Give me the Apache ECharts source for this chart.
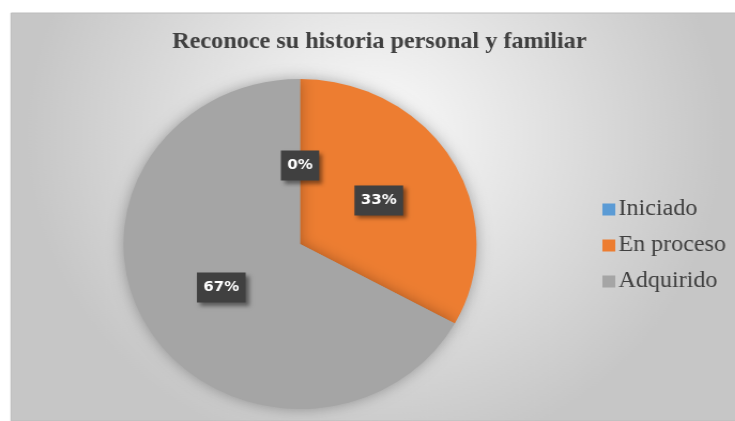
<!DOCTYPE html>
<html>
<head>
    <meta charset="utf-8">
    <title>Reconoce su historia personal y familiar</title>
    <script type="text/javascript" src="https://cdn.jsdelivr.net/npm/echarts@6/dist/echarts.min.js"></script>
    <style>
        html, body { margin: 0; padding: 0; background: #ffffff; overflow: hidden; }
        /* la imagen original está algo estirada a lo ancho */
        #main { width: 687px; height: 421px; transform: scaleX(1.07); transform-origin: 0 0; }
    </style>
</head>
<body>
    <div id="main"></div>
    <script type="text/javascript">
        // datos del gráfico
        var categorias = ['Iniciado', 'En proceso', 'Adquirido'];
        var valores = [0, 33, 67];
        var colores = ['#5b9bd5', '#ed7d31', '#a5a5a5'];

        var datos = categorias.map(function (nombre, i) {
            var item = { name: nombre, value: valores[i], itemStyle: { color: colores[i] } };
            // la etiqueta del 0% queda un poco más abajo en el original
            if (i === 0) item.label = { offset: [0, 7] };
            return item;
        });

        var myChart = echarts.init(document.getElementById('main'));
        var option = {
            backgroundColor: '#ffffff',
            graphic: [{
                type: 'rect',
                z: -10,
                shape: { x: 10.3, y: 13, width: 680, height: 408 },
                style: {
                    fill: new echarts.graphic.RadialGradient(0.5, 0.3, 0.8, [
                        { offset: 0, color: '#fbfbfb' },
                        { offset: 1, color: '#c6c6c6' }
                    ]),
                    stroke: '#bcbcbc',
                    lineWidth: 1
                }
            }],
            title: {
                text: 'Reconoce su historia personal y familiar',
                left: 156,
                top: 26,
                padding: 5,
                textStyle: {
                    fontFamily: 'Liberation Serif',
                    fontWeight: 'bold',
                    fontSize: 22.6,
                    color: '#404040'
                }
            },
            legend: {
                orient: 'vertical',
                left: 558,
                top: 193,
                itemWidth: 12,
                itemHeight: 12,
                itemGap: 13,
                icon: 'rect',
                data: categorias,
                textStyle: {
                    fontFamily: 'Liberation Serif',
                    fontSize: 22.5,
                    color: '#404040',
                    padding: [0, 0, 0, -2]
                }
            },
            series: [{
                type: 'pie',
                center: [280.4, 244],
                radius: 165,
                startAngle: 90,
                clockwise: true,
                avoidLabelOverlap: false,
                data: datos,
                itemStyle: {
                    shadowBlur: 14,
                    shadowColor: 'rgba(0,0,0,0.3)'
                },
                label: {
                    show: true,
                    position: 'inside',
                    formatter: '{d}%',
                    fontFamily: 'DejaVu Sans',
                    fontWeight: 'bold',
                    fontSize: 14,
                    color: '#ffffff',
                    backgroundColor: '#404040',
                    padding: [8, 6],
                    shadowBlur: 4,
                    shadowOffsetX: 3,
                    shadowOffsetY: 3,
                    shadowColor: 'rgba(0,0,0,0.45)'
                },
                labelLine: { show: false },
                emphasis: { disabled: true }
            }]
        };
        option && myChart.setOption(option);
    </script>
</body>
</html>
